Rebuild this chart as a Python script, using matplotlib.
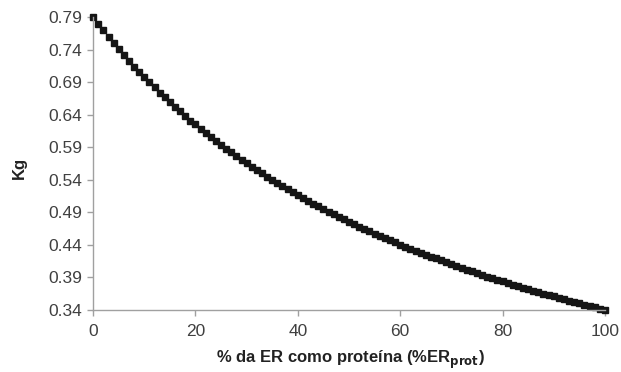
#!/usr/bin/env python3
"""Kg versus share of ER as protein."""

import matplotlib

matplotlib.use("Agg")

import matplotlib.pyplot as plt
import numpy as np

PROT_PCT = list(range(0, 101))
KG = [
    0.790, 0.780, 0.770, 0.760, 0.750, 0.741, 0.732, 0.723, 0.714, 0.706,
    0.698, 0.690, 0.682, 0.674, 0.667, 0.659, 0.652, 0.645, 0.638, 0.631,
    0.625, 0.618, 0.612, 0.606, 0.600, 0.594, 0.588, 0.582, 0.576, 0.571,
    0.565, 0.560, 0.555, 0.550, 0.545, 0.540, 0.535, 0.530, 0.526, 0.521,
    0.517, 0.512, 0.508, 0.503, 0.499, 0.495, 0.491, 0.487, 0.483, 0.479,
    0.475, 0.472, 0.468, 0.464, 0.461, 0.457, 0.454, 0.450, 0.447, 0.444,
    0.440, 0.437, 0.434, 0.431, 0.428, 0.425, 0.422, 0.419, 0.416, 0.413,
    0.410, 0.407, 0.405, 0.402, 0.399, 0.396, 0.394, 0.391, 0.389, 0.386,
    0.384, 0.381, 0.379, 0.376, 0.374, 0.372, 0.369, 0.367, 0.365, 0.363,
    0.361, 0.358, 0.356, 0.354, 0.352, 0.350, 0.348, 0.346, 0.344, 0.342,
    0.340,
]
X_TICKS = [0, 20, 40, 60, 80, 100]
Y_TICKS = [0.34, 0.39, 0.44, 0.49, 0.54, 0.59, 0.64, 0.69, 0.74, 0.79]

plt.rcParams["font.family"] = ["Liberation Sans", "DejaVu Sans"]

fig = plt.figure(figsize=(6.21, 3.72), dpi=100)
ax = fig.add_axes([0.150, 0.167, 0.824, 0.787])

ax.plot(PROT_PCT, KG, linestyle="none", marker="s", markersize=4.4,
        color="#151515", clip_on=False)

ax.set_xlim(0, 100)
ax.set_ylim(0.34, 0.79)
ax.set_xticks(X_TICKS)
ax.set_yticks(Y_TICKS)
ax.set_yticklabels([f"{v:.2f}" for v in Y_TICKS])

for side in ("top", "right"):
    ax.spines[side].set_visible(False)
for side in ("left", "bottom"):
    ax.spines[side].set_color("#a0a0a0")
    ax.spines[side].set_linewidth(1.0)
ax.tick_params(axis="both", colors="#a0a0a0", length=4, width=1.0,
               labelsize=12.5, labelcolor="#404040")
ax.tick_params(axis="x", pad=6)
ax.tick_params(axis="y", pad=4)

ax.set_xlabel(r"% da ER como proteína (%ER$_{\mathbf{prot}}$)",
              fontsize=12, fontweight="bold", color="#222222")
ax.xaxis.set_label_coords(0.502, -0.132)
ax.set_ylabel("Kg", fontsize=12, fontweight="bold", color="#222222")
ax.yaxis.set_label_coords(-0.129, 0.485)

fig.savefig("out.png", dpi=100, facecolor="white")
